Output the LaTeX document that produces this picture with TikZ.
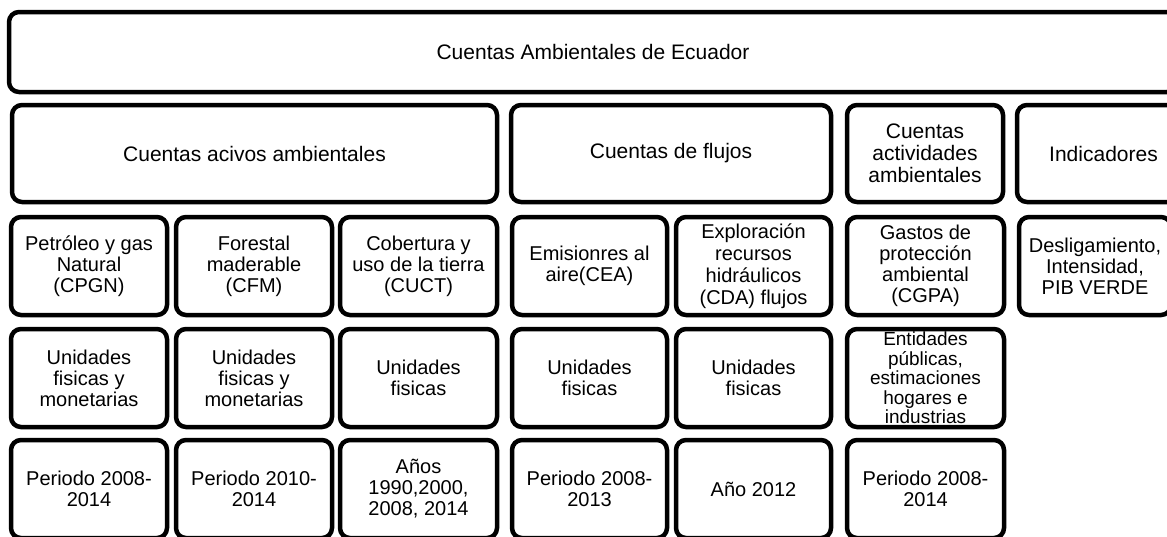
\documentclass[tikz,border=0pt]{standalone}
\usepackage{fontspec}
\setmainfont{Liberation Sans}
\begin{document}
\begin{tikzpicture}[x=1pt,y=-1pt,
  box/.style={draw=black, line width=4.5pt, rounded corners=10pt, inner sep=0pt,
    align=center, font=\fontsize{20}{21}\selectfont},
  head/.style={box, font=\fontsize{21}{22}\selectfont},
  cell/.style={box, minimum width=155pt, minimum height=98pt},
]
\useasboundingbox (0,0) rectangle (1167,536);
\fill[white] (0,0) rectangle (1167,536);
\clip (0,0) rectangle (1167,536);
% row 1
\node[head, minimum width=1168pt, minimum height=80pt] (top) at (593,52) {Cuentas Ambientales de Ecuador};
% row 2
\node[head, minimum width=485pt, minimum height=97pt] (activos) at (254.5,153.5) {Cuentas acivos ambientales};
\node[head, minimum width=320pt, minimum height=97pt] (flujos) at (671,153.5) {Cuentas de flujos};
\node[head, minimum width=156pt, minimum height=97pt] (activ) at (925,153.5) {Cuentas\\actividades\\ambientales};
\node[head, minimum width=173pt, minimum height=97pt] (indic) at (1103.5,153.5) {Indicadores};
% row 3
\node[cell, minimum width=156pt] (c31) at (89,266) {Petróleo y gas\\Natural\\(CPGN)};
\node[cell, minimum width=156pt] (c32) at (254,266) {Forestal\\maderable\\(CFM)};
\node[cell, minimum width=157pt] (c33) at (418.5,266) {Cobertura y\\uso de la tierra\\(CUCT)};
\node[cell] (c34) at (589.5,266) {Emisionres al\\aire(CEA)};
\node[cell, font=\fontsize{20}{22}\selectfont] (c35) at (753.5,266) {Exploración\\recursos\\hidráulicos\\(CDA) flujos};
\node[cell, minimum width=157pt] (c36) at (925.5,266) {Gastos de\\protección\\ambiental\\(CGPA)};
\node[cell, minimum width=152pt] (c37) at (1095,266) {Desligamiento,\\Intensidad,\\PIB VERDE};
% row 4
\node[cell, minimum width=156pt] (c41) at (89,378) {Unidades\\fisicas y\\monetarias};
\node[cell, minimum width=156pt] (c42) at (254,378) {Unidades\\fisicas y\\monetarias};
\node[cell, minimum width=157pt] (c43) at (418.5,378) {Unidades\\fisicas};
\node[cell] (c44) at (589.5,378) {Unidades\\fisicas};
\node[cell] (c45) at (753.5,378) {Unidades\\fisicas};
\node[cell, minimum width=157pt, font=\fontsize{19}{19.5}\selectfont] (c46) at (925.5,378) {Entidades\\públicas,\\estimaciones\\hogares e\\industrias};
% row 5
\node[cell, minimum width=156pt] (c51) at (89,489) {Periodo 2008-\\2014};
\node[cell, minimum width=156pt] (c52) at (254,489) {Periodo 2010-\\2014};
\node[cell, minimum width=157pt] (c53) at (418.5,489) {Años\\1990,2000,\\2008, 2014};
\node[cell] (c54) at (589.5,489) {Periodo 2008-\\2013};
\node[cell] (c55) at (753.5,489) {Año 2012};
\node[cell, minimum width=157pt] (c56) at (925.5,489) {Periodo 2008-\\2014};
\end{tikzpicture}
\end{document}
